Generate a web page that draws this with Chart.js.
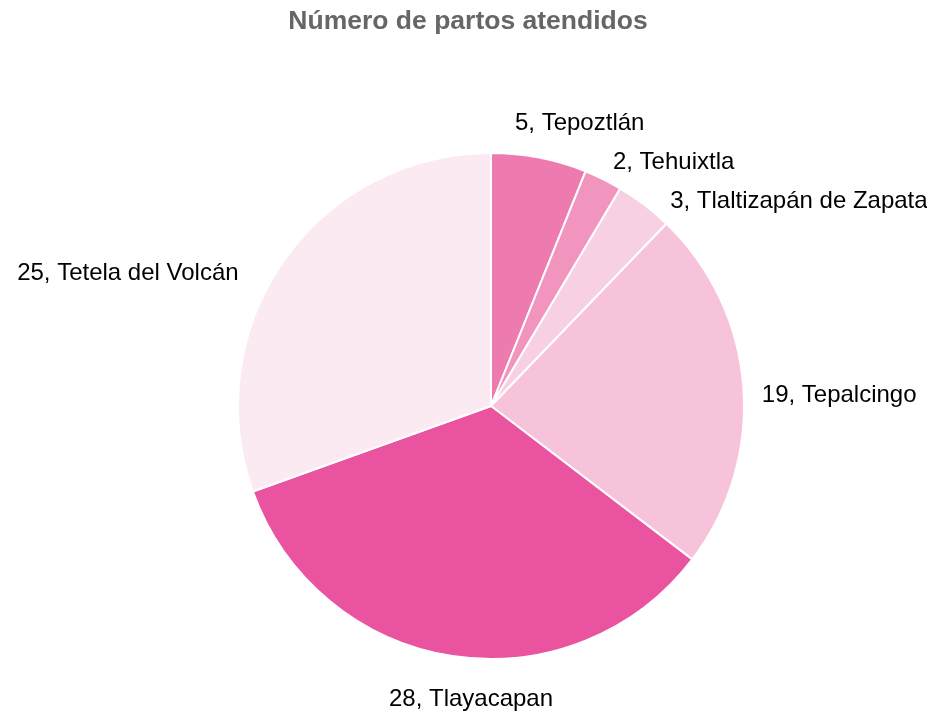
<!DOCTYPE html>
<html>
<head>
<meta charset="utf-8">
<script src="https://cdn.jsdelivr.net/npm/chart.js@4/dist/chart.umd.min.js"></script>
<style>
  html, body { margin: 0; padding: 0; background: #fff; }
  #wrap { width: 927px; height: 715px; position: relative; }
</style>
</head>
<body>
<div id="wrap"><canvas id="partosChart"></canvas></div>
<script>
// Data
const municipios = ['Tepoztlán', 'Tehuixtla', 'Tlaltizapán de Zapata', 'Tepalcingo', 'Tlayacapan', 'Tetela del Volcán'];
const partos = [5, 2, 3, 19, 28, 25];
const colores = ['#ee7bb0', '#f195bf', '#f8d0e3', '#f6c3db', '#ea53a0', '#fbeaf2'];
const titulo = 'Número de partos atendidos';

// Title + outside labels placed from the arc geometry
const pieLabels = {
    id: 'pieLabels',
    afterDraw(chart) {
        const c = chart.ctx;
        c.save();
        c.fillStyle = '#666666';
        c.font = 'bold 26.5px "Liberation Sans", Arial, sans-serif';
        c.textAlign = 'center';
        c.textBaseline = 'middle';
        c.fillText(titulo, 468, 22);

        const meta = chart.getDatasetMeta(0);
        c.font = '24px "Liberation Sans", Arial, sans-serif';
        c.fillStyle = '#000';
        const items = meta.data.map((arc, i) => {
            const mid = (arc.startAngle + arc.endAngle) / 2;
            const r = arc.outerRadius + 20;
            return {
                cx: arc.x, cy: arc.y, r, mid,
                y: arc.y + r * Math.sin(mid),
                right: Math.cos(mid) >= 0,
                text: partos[i] + ', ' + municipios[i]
            };
        });
        // group overlapping labels on each side, centred on their natural mean
        const gap = 39;
        [true, false].forEach(side => {
            const s = items.filter(d => d.right === side).sort((a, b) => a.y - b.y);
            let groups = s.map(d => ({ items: [d], target: d.y }));
            let merged = true;
            while (merged) {
                merged = false;
                for (let k = 1; k < groups.length; k++) {
                    const a = groups[k - 1], b = groups[k];
                    const aEnd = a.target + (a.items.length - 1) * gap / 2;
                    const bStart = b.target - (b.items.length - 1) * gap / 2;
                    if (bStart - aEnd < gap) {
                        const all = a.items.concat(b.items);
                        const t = all.reduce((m, d) => m + d.y, 0) / all.length;
                        groups.splice(k - 1, 2, { items: all, target: t, multi: true });
                        merged = true;
                        break;
                    }
                }
            }
            const shift = side ? 10 : 24;
            groups.forEach(g => {
                g.items.forEach((d, k) => {
                    d.ly = g.multi ? g.target + (k - (g.items.length - 1) / 2) * gap : d.y + shift;
                });
            });
        });
        items.forEach(d => {
            const dy = d.ly - d.cy;
            let dx = Math.sqrt(Math.max(0, d.r * d.r - dy * dy));
            const w = c.measureText(d.text).width;
            let x;
            if (!d.right && Math.abs(dy) > d.r * 0.97) {
                x = d.cx - dx - w / 2 - 20;
            } else if (d.right) {
                dx = Math.max(dx, 0.5 * d.r * Math.abs(Math.cos(d.mid)));
                x = d.cx + dx - 2;
            } else {
                x = d.cx - dx - w - 14;
            }
            c.textAlign = 'left';
            c.fillText(d.text, x, d.ly);
        });
        c.restore();
    }
};

new Chart(document.getElementById('partosChart').getContext('2d'), {
    type: 'pie',
    data: {
        labels: municipios,
        datasets: [{
            data: partos,
            backgroundColor: colores,
            borderColor: '#ffffff',
            borderWidth: 2
        }]
    },
    options: {
        responsive: true,
        maintainAspectRatio: false,
        animation: false,
        layout: { padding: { top: 152, bottom: 55, left: 237, right: 182 } },
        plugins: {
            legend: { display: false },
            title: { display: false },
            tooltip: { enabled: false }
        }
    },
    plugins: [pieLabels]
});
</script>
</body>
</html>
